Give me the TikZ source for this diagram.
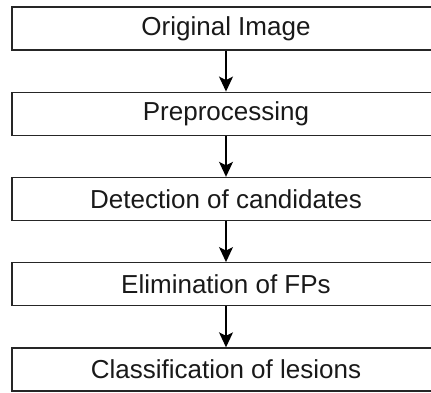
\documentclass[tikz,border=0pt]{standalone}
\usepackage{fontspec}
\setmainfont{Liberation Sans}
\usetikzlibrary{arrows.meta}
\begin{document}
\begin{tikzpicture}[x=1pt,y=1pt,
  stepbox/.style={draw=black!85, line width=1.4pt, minimum width=428pt, minimum height=43pt,
    inner sep=0pt, font=\fontsize{26}{30}\selectfont, text=black!90},
  flow/.style={draw=black, line width=1.3pt, -{Stealth[width=14pt,length=15pt,inset=3.5pt]}}]
\useasboundingbox (0,0) rectangle (431,-393);
\clip (0,0) rectangle (431,-393);
\node[stepbox] (a) at (226,-28.5) {Original Image};
\node[stepbox] (b) at (226,-113.75) {Preprocessing};
\node[stepbox] (c) at (226,-199) {Detection of candidates};
\node[stepbox] (d) at (226,-284.25) {Elimination of FPs};
\node[stepbox] (e) at (226,-369.5) {Classification of lesions};
\draw[flow] (a) -- (b);
\draw[flow] (b) -- (c);
\draw[flow] (c) -- (d);
\draw[flow] (d) -- (e);
\end{tikzpicture}
\end{document}
